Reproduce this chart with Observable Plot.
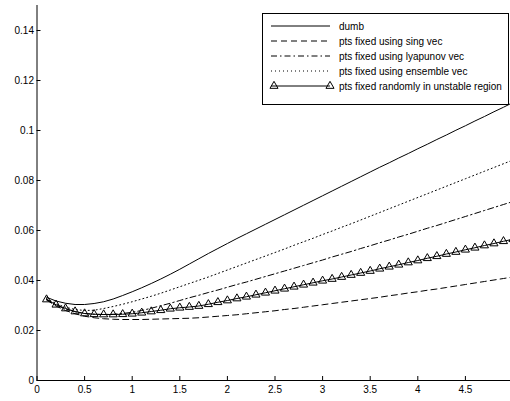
<!DOCTYPE html>
<html>
<head>
<meta charset="utf-8">
<script src="https://cdn.jsdelivr.net/npm/d3@7"></script>
<script src="https://cdn.jsdelivr.net/npm/@observablehq/plot@0.6"></script>
<style>
  html, body { margin: 0; padding: 0; background: #fff; overflow: hidden; }
  #chart { width: 510px; height: 401px; }
</style>
</head>
<body>
<div id="chart"></div>
<script>
const xs = [0.1,0.2,0.3,0.4,0.5,0.6,0.7,0.8,0.9,1.0,1.1,1.2,1.3,1.4,1.5,1.6,1.7,1.8,1.9,2.0,2.1,2.2,2.3,2.4,2.5,2.6,2.7,2.8,2.9,3.0,3.1,3.2,3.3,3.4,3.5,3.6,3.7,3.8,3.9,4.0,4.1,4.2,4.3,4.4,4.5,4.6,4.7,4.8,4.9,5.0];

const dumb = [0.0333,0.0318,0.0309,0.0304,0.0304,0.0308,0.0315,0.0326,0.0340,0.0355,0.0371,0.0388,0.0406,0.0425,0.0445,0.0466,0.0487,0.0508,0.0528,0.0548,0.0568,0.0587,0.0606,0.0625,0.0644,0.0663,0.0682,0.0701,0.0720,0.0739,0.0758,0.0777,0.0796,0.0815,0.0834,0.0853,0.0871,0.0890,0.0908,0.0927,0.0945,0.0964,0.0982,0.1001,0.1019,0.1038,0.1056,0.1075,0.1093,0.1112];

const singVec = [0.0322,0.0298,0.0280,0.0267,0.0257,0.0251,0.0247,0.0245,0.0244,0.0244,0.0244,0.0245,0.0246,0.0247,0.0248,0.0249,0.0251,0.0254,0.0257,0.0260,0.0263,0.0267,0.0271,0.0275,0.0279,0.0284,0.0288,0.0293,0.0298,0.0303,0.0308,0.0313,0.0318,0.0323,0.0328,0.0333,0.0339,0.0344,0.0350,0.0355,0.0361,0.0366,0.0372,0.0378,0.0384,0.0390,0.0396,0.0402,0.0408,0.0414];

const lyapVec = [0.0325,0.0302,0.0286,0.0275,0.0268,0.0265,0.0264,0.0265,0.0268,0.0273,0.0280,0.0289,0.0299,0.0309,0.0320,0.0331,0.0341,0.0352,0.0362,0.0373,0.0384,0.0394,0.0405,0.0416,0.0427,0.0438,0.0449,0.0460,0.0471,0.0482,0.0494,0.0505,0.0516,0.0528,0.0539,0.0551,0.0562,0.0574,0.0585,0.0597,0.0609,0.0620,0.0632,0.0644,0.0656,0.0668,0.0680,0.0692,0.0704,0.0716];

const ensVec = [0.0328,0.0307,0.0293,0.0284,0.0280,0.0281,0.0288,0.0296,0.0305,0.0315,0.0326,0.0337,0.0349,0.0362,0.0375,0.0388,0.0401,0.0414,0.0428,0.0442,0.0456,0.0470,0.0484,0.0498,0.0512,0.0526,0.0541,0.0555,0.0569,0.0584,0.0598,0.0613,0.0627,0.0642,0.0657,0.0672,0.0687,0.0702,0.0717,0.0732,0.0747,0.0762,0.0777,0.0792,0.0807,0.0822,0.0837,0.0852,0.0867,0.0882];

const randomFix = [0.0324,0.0303,0.0288,0.0276,0.0268,0.0265,0.0264,0.0264,0.0265,0.0267,0.0271,0.0276,0.0281,0.0287,0.0291,0.0294,0.0298,0.0305,0.0313,0.0320,0.0328,0.0335,0.0343,0.0351,0.0359,0.0367,0.0375,0.0383,0.0391,0.0399,0.0406,0.0414,0.0422,0.0430,0.0438,0.0447,0.0455,0.0463,0.0472,0.0480,0.0489,0.0497,0.0506,0.0514,0.0523,0.0531,0.0540,0.0548,0.0557,0.0565];

const legendLabels = ["dumb","pts fixed using sing vec","pts fixed using lyapunov vec","pts fixed using ensemble vec","pts fixed randomly in unstable region"];
const xTicks = [0,0.5,1,1.5,2,2.5,3,3.5,4,4.5,5];
const yTicks = [0,0.02,0.04,0.06,0.08,0.1,0.12,0.14];

const styles = [
  {dash: null, width: 1},
  {dash: "6,4", width: 1},
  {dash: "6,3,1.5,3", width: 1},
  {dash: "1,3", width: 1},
  {dash: null, width: 1}
];
const seriesValues = [dumb, singVec, lyapVec, ensVec, randomFix];
const toRows = vals => xs.map((x, i) => ({x, y: vals[i]}));

const font = "'Liberation Sans', Arial, Helvetica, sans-serif";
const fmt = d => String(+d.toFixed(2));
const triR = 3;

const lineMarks = seriesValues.map((vals, i) =>
  Plot.line(toRows(vals), {x: "x", y: "y", stroke: "black", strokeWidth: styles[i].width,
    strokeDasharray: styles[i].dash || undefined, curve: "linear"}));

const plot = Plot.plot({
  width: 510,
  height: 401,
  marginLeft: 36.5,
  marginRight: -2.5,
  marginTop: 5,
  marginBottom: 21,
  x: {domain: [0, 5], range: [36.5, 512.5], label: null},
  y: {domain: [0, 0.15], range: [380, 5], label: null},
  style: {fontFamily: font, fontSize: "10px", background: "white", color: "black", overflow: "hidden"},
  marks: [
    ...lineMarks,
    Plot.dot(toRows(randomFix), {x: "x", y: "y", symbol: "triangle", r: triR, stroke: "black", strokeWidth: 1, fill: "none"}),
    Plot.axisX({ticks: xTicks, tickSize: -4, text: null, anchor: "bottom", label: null}),
    Plot.axisX({ticks: xTicks, tickSize: 0, tickPadding: 5, tickFormat: fmt, anchor: "bottom", fontSize: 10, label: null}),
    Plot.axisY({ticks: yTicks, tickSize: -4, text: null, anchor: "left", label: null}),
    Plot.axisY({ticks: yTicks, tickSize: 0, tickPadding: 3, tickFormat: fmt, anchor: "left", fontSize: 10, label: null}),
    Plot.ruleY([0], {stroke: "black", strokeWidth: 1}),
    Plot.ruleX([0], {stroke: "black", strokeWidth: 1})
  ]
});

document.getElementById("chart").appendChild(plot);

// Legend box drawn on the SVG
const svg = d3.select(plot);
const lg = svg.append("g").attr("class", "legend").attr("text-anchor", "start");
const box = {x: 262.5, y: 13.5, w: 246, h: 91};
lg.append("rect").attr("x", box.x).attr("y", box.y).attr("width", box.w).attr("height", box.h)
  .attr("fill", "white").attr("stroke", "black").attr("stroke-width", 1);
legendLabels.forEach((label, i) => {
  const cy = 26 + i * 15;
  const ln = lg.append("line").attr("x1", 271).attr("x2", 330).attr("y1", cy).attr("y2", cy)
    .attr("stroke", "black").attr("stroke-width", styles[i].width);
  if (styles[i].dash) ln.attr("stroke-dasharray", styles[i].dash);
  if (i === 4) {
    const tri = d3.symbol(d3.symbolTriangle, Math.PI * triR * triR)();
    [274, 330].forEach(px => lg.append("path").attr("d", tri).attr("transform", `translate(${px},${cy})`)
      .attr("fill", "none").attr("stroke", "black").attr("stroke-width", 1));
  }
  lg.append("text").attr("x", 339).attr("y", cy).attr("dy", "0.35em").attr("text-anchor", "start")
    .attr("font-family", font).attr("font-size", 10).attr("fill", "black").text(label);
});
</script>
</body>
</html>
